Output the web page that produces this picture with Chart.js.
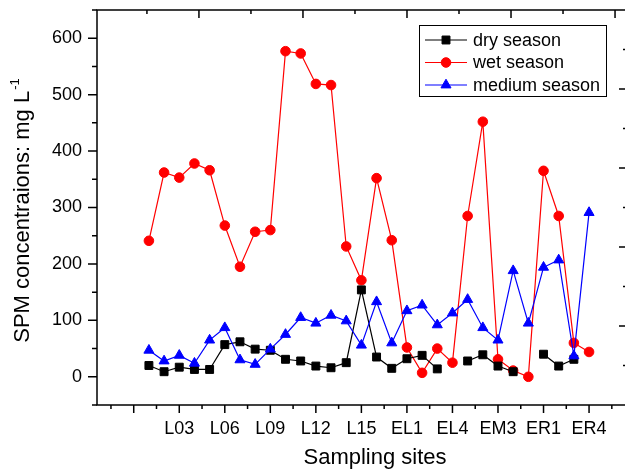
<!DOCTYPE html>
<html>
<head>
<meta charset="utf-8">
<script src="https://cdn.jsdelivr.net/npm/chart.js@4.4.0/dist/chart.umd.min.js"></script>
<style>
  html, body { margin: 0; padding: 0; background: #fff; overflow: hidden; }
</style>
</head>
<body>
<canvas id="myChart" width="640" height="471"></canvas>
<script>
// sampling sites, one per x position 1..30
var categories = ['L01','L02','L03','L04','L05','L06','L07','L08','L09','L10',
  'L11','L12','L13','L14','L15','L16','L17','EL1','EL2','EL3',
  'EL4','EM1','EM2','EM3','EM4','EM5','ER1','ER2','ER3','ER4'];

var drySeason = [20, 9, 17, 13, 13, 57, 62, 49, 47, 31,
  28, 19, 16, 25, 154, 35, 15, 32, 38, 14,
  null, 28, 39, 19, 9, null, 40, 19, 31, null];

var wetSeason = [241, 362, 353, 378, 366, 268, 195, 257, 260, 577,
  573, 519, 517, 231, 171, 352, 242, 52, 7, 50,
  25, 285, 452, 31, 11, 0, 365, 285, 60, 44];

var mediumSeason = [47, 28, 38, 24, 65, 87, 30, 22, 49, 75,
  105, 95, 109, 99, 56, 133, 60, 117, 127, 92,
  113, 137, 87, 65, 188, 95, 194, 207, 37, 291];

var yTicks = [0, 100, 200, 300, 400, 500, 600];
var xTicks = [3, 6, 9, 12, 15, 18, 21, 24, 27, 30];

var seriesNames = ['dry season', 'wet season', 'medium season'];
var seriesColors = ['#000000', '#ff0000', '#0000ff'];
var seriesMarkers = ['rect', 'circle', 'triangle'];
var markerSizes = [5.6, 4.8, 5.8];

function points(values) {
  return categories.map(function (c, i) { return { x: i + 1, y: values[i] }; });
}

Chart.defaults.font.family = '"Liberation Sans", Arial, sans-serif';
Chart.defaults.color = '#000';

// frame, tick marks on four sides, axis titles and the boxed legend
var framePlugin = {
  id: 'frame',
  afterDraw: function (chart) {
    var ctx = chart.ctx, a = chart.chartArea, s = chart.scales;
    ctx.save();
    ctx.strokeStyle = '#000';
    ctx.lineWidth = 1.5;
    ctx.strokeRect(a.left, a.top, a.right - a.left, a.bottom - a.top);

    ctx.beginPath();
    var v, p, len;
    for (v = -1.5; v <= 33; v += 1.5) {
      p = s.x.getPixelForValue(v);
      if (p < a.left || p > a.right) continue;
      len = v % 3 === 0 ? 8 : 4;
      ctx.moveTo(p, a.bottom); ctx.lineTo(p, a.bottom + len);
    }
    for (v = -50; v <= 650; v += 50) {
      p = s.y.getPixelForValue(v);
      len = v % 100 === 0 ? 9 : 5;
      ctx.moveTo(a.left, p); ctx.lineTo(a.left - len, p);
    }
    for (v = 1; v <= 10; v++) {
      p = s.x2.getPixelForValue(v);
      if (p < a.left || p > a.right) continue;
      len = v % 2 === 0 ? 8 : 4;
      ctx.moveTo(p, a.top); ctx.lineTo(p, a.top + len);
    }
    for (v = 1; v <= 9; v++) {
      p = s.y2.getPixelForValue(v);
      len = v % 2 === 0 ? 8 : 4;
      ctx.moveTo(a.right, p); ctx.lineTo(a.right - len, p);
    }
    ctx.stroke();

    // axis titles
    ctx.fillStyle = '#000';
    ctx.font = '22px "Liberation Sans"';
    ctx.textAlign = 'center';
    ctx.textBaseline = 'alphabetic';
    ctx.fillText('Sampling sites', 375, 464);

    ctx.save();
    ctx.translate(29, (a.top + a.bottom) / 2 + 3);
    ctx.rotate(-Math.PI / 2);
    var main = 'SPM concentraions: mg L', sup = '-1';
    ctx.font = '22px "Liberation Sans"';
    var w1 = ctx.measureText(main).width;
    ctx.font = '13px "Liberation Sans"';
    var w2 = ctx.measureText(sup).width;
    var x0 = -(w1 + w2 + 1) / 2;
    ctx.textAlign = 'left';
    ctx.font = '22px "Liberation Sans"';
    ctx.fillText(main, x0, 0);
    ctx.font = '13px "Liberation Sans"';
    ctx.fillText(sup, x0 + w1 + 1, -10);
    ctx.restore();

    // legend
    ctx.lineWidth = 1;
    ctx.strokeStyle = '#000';
    ctx.strokeRect(419.5, 25.5, 187, 71);
    ctx.font = '18px "Liberation Sans"';
    ctx.textAlign = 'left';
    ctx.textBaseline = 'middle';
    for (var i = 0; i < seriesNames.length; i++) {
      var ry = 40 + i * 22.5;
      ctx.strokeStyle = seriesColors[i];
      ctx.fillStyle = seriesColors[i];
      ctx.lineWidth = 1.2;
      ctx.beginPath();
      ctx.moveTo(425, ry); ctx.lineTo(467, ry);
      ctx.stroke();
      ctx.lineWidth = 1;
      Chart.helpers.drawPoint(ctx, { pointStyle: seriesMarkers[i], radius: markerSizes[i], rotation: 0, borderWidth: 1 }, 446, ry);
      ctx.fillStyle = '#000';
      ctx.fillText(seriesNames[i], 473, ry + 1);
    }
    ctx.restore();
  }
};

function makeDataset(i, values, order) {
  return {
    label: seriesNames[i],
    data: points(values),
    borderColor: seriesColors[i],
    backgroundColor: seriesColors[i],
    pointBackgroundColor: seriesColors[i],
    pointBorderColor: seriesColors[i],
    pointStyle: seriesMarkers[i],
    pointRadius: markerSizes[i],
    pointBorderWidth: 1,
    borderWidth: 1.2,
    tension: 0,
    spanGaps: false,
    order: order
  };
}

var ctx = document.getElementById('myChart').getContext('2d');

var myChart = new Chart(ctx, {
  type: 'line',
  data: {
    datasets: [
      makeDataset(0, drySeason, 1),
      makeDataset(1, wetSeason, 2),
      makeDataset(2, mediumSeason, 0)
    ]
  },
  options: {
    responsive: false,
    animation: false,
    layout: { padding: { top: 10, right: 13, left: 0, bottom: 0 } },
    plugins: { legend: { display: false }, tooltip: { enabled: false } },
    scales: {
      x: {
        type: 'linear',
        position: 'bottom',
        min: -2.42,
        max: 32.5,
        grid: { display: false, drawTicks: false },
        border: { display: false },
        afterBuildTicks: function (scale) {
          scale.ticks = xTicks.map(function (v) { return { value: v }; });
        },
        afterFit: function (scale) {
          scale.height = 66;
          scale.paddingLeft = 0;
          scale.paddingRight = 0;
        },
        ticks: {
          autoSkip: false,
          maxRotation: 0,
          padding: 13,
          font: { size: 18 },
          callback: function (v) { return categories[v - 1] || ''; }
        }
      },
      x2: {
        type: 'linear',
        position: 'top',
        display: false,
        min: 0.04,
        max: 10.23
      },
      y: {
        type: 'linear',
        position: 'left',
        min: -50,
        max: 650,
        grid: { display: false, drawTicks: false },
        border: { display: false },
        afterBuildTicks: function (scale) {
          scale.ticks = yTicks.map(function (v) { return { value: v }; });
        },
        afterFit: function (scale) {
          scale.width = 97;
          scale.paddingTop = 0;
          scale.paddingBottom = 0;
        },
        ticks: { padding: 15, font: { size: 18 } }
      },
      y2: {
        type: 'linear',
        position: 'right',
        display: false,
        min: 0,
        max: 10
      }
    }
  },
  plugins: [framePlugin]
});
</script>
</body>
</html>
